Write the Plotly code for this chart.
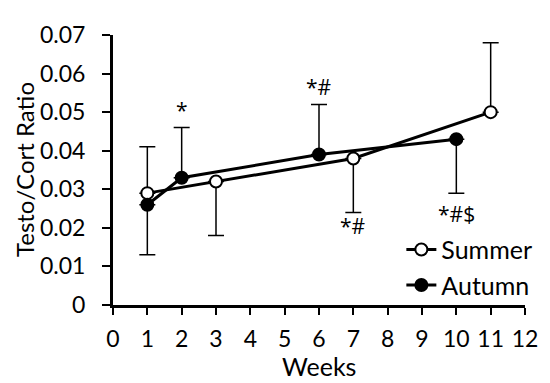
import plotly.graph_objects as go

summer_weeks = [1, 3, 7, 11]
summer_vals = [0.029, 0.032, 0.038, 0.050]
summer_err_plus = [0.012, 0, 0, 0.018]
summer_err_minus = [0, 0.014, 0.014, 0]

autumn_weeks = [1, 2, 6, 10]
autumn_vals = [0.026, 0.033, 0.039, 0.043]
autumn_err_plus = [0, 0.013, 0.013, 0]
autumn_err_minus = [0.013, 0, 0, 0.014]

sig_x = [2, 6, 11, 7, 10]
sig_y = [0.0505, 0.0565, 0.0715, 0.0205, 0.0235]
sig_text = ["*", "*#", "*#", "*#", "*#$"]

x_ticks = list(range(0, 13))
y_ticks = [0, 0.01, 0.02, 0.03, 0.04, 0.05, 0.06, 0.07]
y_tick_labels = ["0", "0.01", "0.02", "0.03", "0.04", "0.05", "0.06", "0.07"]

FONT = "Lato"
ANN_FONT = "Open Sans"

fig = go.Figure()

def err(plus, minus):
    return dict(type="data", symmetric=False, array=plus, arrayminus=minus,
                color="black", thickness=1.5, width=8)

fig.add_trace(go.Scatter(
    x=summer_weeks, y=summer_vals, name="Summer", mode="lines+markers",
    line=dict(color="black", width=3),
    marker=dict(symbol="circle", size=12, color="white", line=dict(color="black", width=2)),
    error_y=err(summer_err_plus, summer_err_minus), cliponaxis=False,
))
fig.add_trace(go.Scatter(
    x=autumn_weeks, y=autumn_vals, name="Autumn", mode="lines+markers",
    line=dict(color="black", width=3),
    marker=dict(symbol="circle", size=12, color="black", line=dict(color="black", width=2)),
    error_y=err(autumn_err_plus, autumn_err_minus), cliponaxis=False,
))

for xv, yv, t in zip(sig_x, sig_y, sig_text):
    fig.add_annotation(x=xv, y=yv, text=t, showarrow=False,
                       font=dict(family=ANN_FONT, size=21, color="black"))

# axis titles placed as annotations for exact positioning
fig.add_annotation(text="Weeks", xref="paper", yref="paper", x=0.5, y=0,
                   yanchor="middle", yshift=-61, showarrow=False,
                   font=dict(family=FONT, size=25, color="black"))
fig.add_annotation(text="Testo/Cort Ratio", xref="paper", yref="paper", x=0, y=0.5,
                   xanchor="center", xshift=-89, textangle=-90, showarrow=False,
                   font=dict(family=FONT, size=24, color="black"))

fig.update_layout(
    width=542, height=375,
    margin=dict(l=105, r=20, t=21, b=78),
    paper_bgcolor="white", plot_bgcolor="white",
    font=dict(family=FONT, size=23, color="black"),
    showlegend=True,
    legend=dict(x=1.03, xanchor="right", y=-0.01, yanchor="bottom",
                font=dict(family=FONT, size=25, color="black"),
                bgcolor="rgba(0,0,0,0)", tracegroupgap=0),
)
fig.update_xaxes(
    range=[0, 12], tickvals=x_ticks, ticks="outside", ticklen=7, tickwidth=2,
    tickcolor="black", showline=True, linecolor="black", linewidth=3,
    showgrid=False, zeroline=False, ticklabelstandoff=4,
    tickfont=dict(family=FONT, size=23),
)
fig.update_yaxes(
    range=[0, 0.07], tickvals=y_ticks, ticktext=y_tick_labels, ticks="outside",
    ticklen=8, tickwidth=2, tickcolor="black", showline=True, linecolor="black",
    linewidth=3, showgrid=False, zeroline=False, ticklabelstandoff=12,
    tickfont=dict(family=FONT, size=23),
)

fig.write_html("out.html")
